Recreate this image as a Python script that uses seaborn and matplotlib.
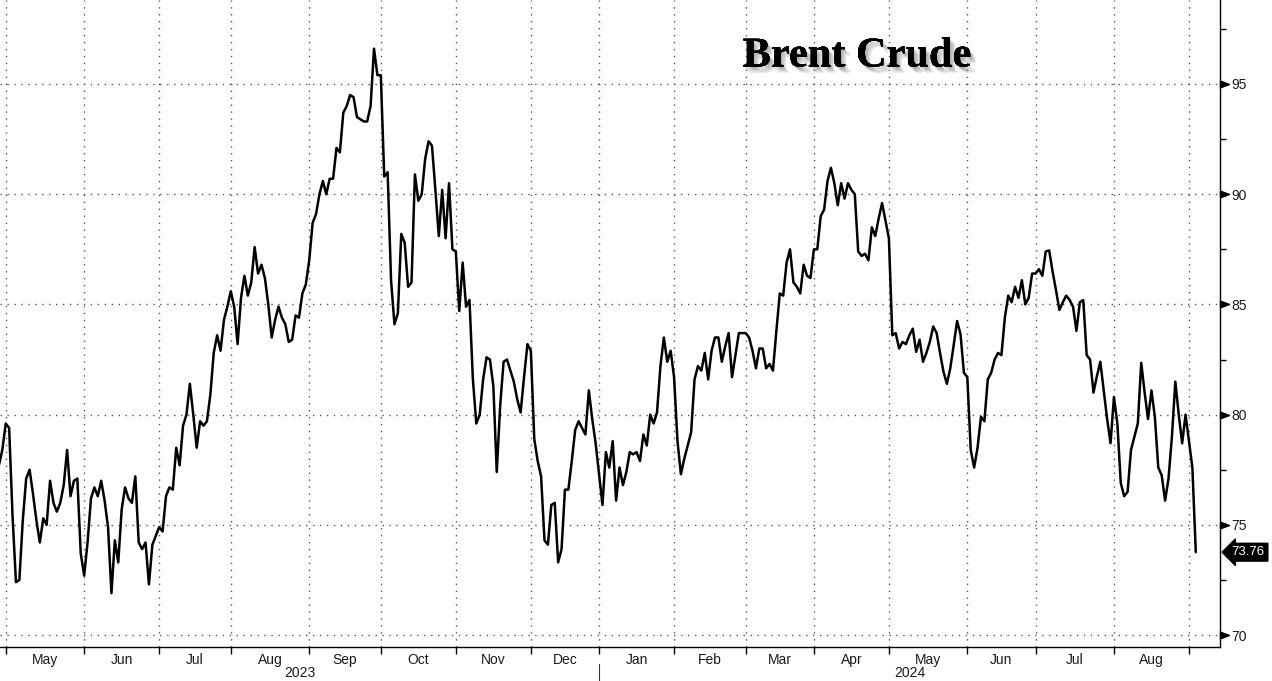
import numpy as np
import pandas as pd
import matplotlib
matplotlib.use("Agg")
import matplotlib.pyplot as plt
import matplotlib.patheffects as pe
from matplotlib.path import Path
from matplotlib.transforms import blended_transform_factory
import seaborn as sns

# ---------------- data ----------------
start_date = "2023-04-26"
end_date = "2024-09-03"
exchange_holidays = ["2023-12-25", "2024-01-01", "2024-03-29"]

brent_2023 = [
    77.7, 78.4, 79.6,
    79.4, 75.4, 72.4, 72.5, 75.2, 77.1, 77.5, 76.4, 75.2, 74.2, 75.3, 75.0, 77.0, 76.0, 75.6,
    76.0, 76.8, 78.4, 76.3, 77.0, 77.1, 73.7, 72.7,
    74.2, 76.2, 76.7, 76.3, 77.0, 76.1, 74.9, 71.9, 74.3, 73.3, 75.7, 76.7, 76.2, 76.0, 77.2,
    74.2, 73.9, 74.2, 72.3, 74.1, 74.5, 74.9,
    74.7, 76.3, 76.7, 76.6, 78.5, 77.7, 79.5, 80.0, 81.4, 80.0, 78.5, 79.7, 79.5, 79.7, 80.9,
    82.8, 83.6, 82.9, 84.3, 84.9, 85.6,
    84.9, 83.2, 85.3, 86.3, 85.4, 86.0, 87.6, 86.4, 86.8, 86.2, 85.0, 83.5, 84.3, 84.9, 84.4,
    84.1, 83.3, 83.4, 84.5, 84.4, 85.5, 85.9, 87.0,
    88.7, 89.1, 90.0, 90.6, 90.0, 90.7, 90.7, 92.1, 91.9, 93.7, 94.0, 94.5, 94.4, 93.5, 93.4,
    93.3, 93.3, 94.0, 96.6, 95.4, 95.4,
    90.8, 91.0, 86.1, 84.1, 84.6, 88.2, 87.8, 85.8, 86.0, 90.9, 89.7, 90.0, 91.6, 92.4, 92.2,
    90.2, 88.1, 90.2, 88.0, 90.5, 87.5, 87.4,
    84.7, 86.9, 84.9, 85.2, 81.6, 79.6, 80.0, 81.6, 82.6, 82.5, 81.3, 77.4, 80.4, 82.4, 82.5,
    82.0, 81.5, 80.7, 80.1, 81.7, 83.2, 82.9,
    78.9, 77.9, 77.2, 74.3, 74.1, 75.9, 76.0, 73.3, 73.9, 76.6, 76.6, 77.9, 79.3, 79.7, 79.4,
    79.1, 81.1, 79.8, 78.7, 77.3,
]

brent_2024 = [
    75.9, 78.3, 77.6, 78.8, 76.1, 77.6, 76.8, 77.4, 78.3, 78.2, 78.3, 77.9, 79.1, 78.6, 80.0,
    79.6, 80.1, 82.2, 83.5, 82.4, 82.9, 81.7,
    78.8, 77.3, 78.0, 78.6, 79.2, 81.6, 82.2, 82.0, 82.8, 81.6, 82.9, 83.5, 83.5, 82.4, 83.1,
    83.7, 81.7, 82.7, 83.7, 83.7, 83.7,
    83.5, 82.9, 82.1, 83.0, 83.0, 82.1, 82.3, 82.0, 83.8, 85.5, 85.4, 86.9, 87.5, 86.0, 85.8,
    85.5, 86.8, 86.3, 86.2, 87.5,
    87.5, 89.0, 89.3, 90.6, 91.2, 90.5, 89.5, 90.5, 89.8, 90.5, 90.2, 90.0, 87.4, 87.2, 87.3,
    87.0, 88.5, 88.1, 88.9, 89.6, 88.8, 88.0,
    83.6, 83.7, 83.0, 83.3, 83.2, 83.6, 83.9, 82.85, 83.4, 82.4, 82.8, 83.3, 84.0, 83.7, 82.8,
    81.95, 81.4, 82.1, 83.15, 84.25, 83.65, 81.9, 81.7,
    78.4, 77.6, 78.5, 79.9, 79.7, 81.6, 81.9, 82.5, 82.8, 82.7, 84.4, 85.4, 85.1, 85.8, 85.3,
    86.1, 85.0, 85.3, 86.4, 86.4,
    86.6, 86.3, 87.4, 87.45, 86.5, 85.65, 84.75, 85.1, 85.4, 85.2, 84.9, 83.8, 85.1, 85.2, 82.7,
    82.5, 81.0, 81.75, 82.4, 81.1, 79.8, 78.7, 80.8,
    79.6, 76.9, 76.3, 76.5, 78.4, 79.0, 79.6, 82.35, 81.0, 79.8, 81.1, 79.9, 77.6, 77.25, 76.1,
    77.1, 79.0, 81.5, 80.0, 78.7, 80.0, 78.8,
    77.6, 73.76,
]

y_ticks = [70, 75, 80, 85, 90, 95]
y_minor_ticks = [72.5, 77.5, 82.5, 87.5, 92.5, 97.5]
last_label = "73.76"
title_text = "Brent Crude"

# ---------------- build frame ----------------
values = brent_2023 + brent_2024
dates = pd.bdate_range(start_date, end_date, freq="C", holidays=exchange_holidays)
n = min(len(dates), len(values))
dates = dates[-n:]
values = values[-n:]
df = pd.DataFrame({"pos": np.arange(n), "date": dates, "price": values})

# month boundaries: last trading day of each month
month_key = df["date"].dt.year * 12 + df["date"].dt.month
boundaries = [i for i in range(n - 1) if month_key.iloc[i] != month_key.iloc[i + 1]]
month_centers = [(a + b) / 2 for a, b in zip(boundaries[:-1], boundaries[1:])]
month_labels = [df["date"].iloc[b].strftime("%b") for b in boundaries[1:]]
year_break = [b for b in boundaries if df["date"].iloc[b].month == 12][0]

# ---------------- style ----------------
sns.set_theme(style="white")
plt.rcParams["font.family"] = ["Liberation Sans", "DejaVu Sans"]

W, H = 1272, 681
fig = plt.figure(figsize=(W / 100, H / 100), dpi=100)
fig.patch.set_facecolor("white")
ax = fig.add_axes([0, 34 / H, 1220 / W, 647 / H])
ax.set_facecolor("white")

sns.lineplot(data=df, x="pos", y="price", ax=ax, color="black", linewidth=1.8)

x_left = 0.32
x_right = n - 1 + 7.1
ax.set_xlim(x_left, x_right)
ax.set_ylim(69.46, 98.81)

for s in ["left", "top"]:
    ax.spines[s].set_visible(False)
for s in ["right", "bottom"]:
    ax.spines[s].set_visible(True)
    ax.spines[s].set_color("black")
    ax.spines[s].set_linewidth(1.0)

# x ticks
ax.set_xticks(boundaries)
ax.set_xticklabels([])
ax.set_xticks(month_centers, minor=True)
ax.set_xticklabels(month_labels, minor=True)
ax.tick_params(axis="x", which="major", bottom=True, length=5, width=1, color="black", direction="out")
ax.tick_params(axis="x", which="minor", bottom=True, length=0, pad=4, labelsize=10, labelcolor="#1a1a1a")
ax.set_xlabel("")
ax.set_ylabel("")

# y ticks on right
ax.yaxis.tick_right()
ax.set_yticks(y_ticks)
ax.set_yticklabels([str(t) for t in y_ticks])
ax.set_yticks(y_minor_ticks, minor=True)
ax.tick_params(axis="y", which="major", right=True, left=False, length=0, pad=8,
               labelsize=10, labelcolor="#1a1a1a")
ax.tick_params(axis="y", which="minor", right=True, left=False, length=4, width=1,
               color="black", direction="out")

# grid
grid_kw = dict(color="#555555", linestyle=(0, (1, 4)), linewidth=1.0)
ax.grid(False)
ax.grid(True, axis="both", which="major", **grid_kw)

# triangular major tick marks on right spine
tri = Path([(0, -0.75), (2, 0), (0, 0.75), (0, -0.75)],
           [Path.MOVETO, Path.LINETO, Path.LINETO, Path.CLOSEPOLY])
yblend = blended_transform_factory(ax.transAxes, ax.transData)
ax.plot([1.0] * len(y_ticks), y_ticks, transform=yblend, marker=tri, markersize=13,
        linestyle="none", color="black", clip_on=False)

# year labels
xfig = blended_transform_factory(ax.transData, fig.transFigure)
ax.text((x_left + year_break) / 2, (H - 673) / H, df["date"].iloc[year_break].strftime("%Y"),
        transform=xfig, ha="center", va="center", fontsize=10, color="#1a1a1a")
ax.text((year_break + x_right) / 2, (H - 673) / H, df["date"].iloc[year_break + 1].strftime("%Y"),
        transform=xfig, ha="center", va="center", fontsize=10, color="#1a1a1a")
ax.plot([year_break, year_break], [0, (H - 664) / H], transform=xfig, color="#333333",
        linewidth=0.8, clip_on=False)

# last value tag
ax.annotate(last_label, xy=(1.0, values[-1]), xycoords=yblend, xytext=(8.5, 0),
            textcoords="offset points", ha="left", va="center", color="white", fontsize=9.5,
            bbox=dict(boxstyle="larrow,pad=0.22", fc="black", ec="black"),
            annotation_clip=False)

# title with soft shadow
shadow = [pe.withSimplePatchShadow(offset=(d, -d - 0.5), shadow_rgbFace="#666666", alpha=0.16)
          for d in (1.0, 2.0, 3.0, 4.0)]
fig.text(857 / W, (H - 66.5) / H, title_text, ha="center", va="baseline",
         fontsize=30.5, fontweight="bold", family=["Liberation Serif", "DejaVu Serif"],
         color="black", path_effects=shadow + [pe.Normal()])

fig.savefig("out.png", dpi=100, facecolor="white")
